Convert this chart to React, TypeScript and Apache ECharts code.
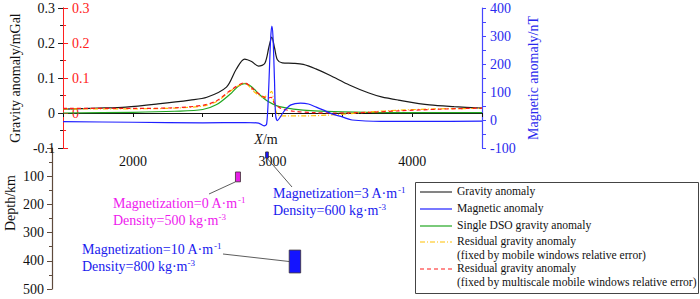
import React, { useEffect, useRef } from "react";
import * as echarts from "echarts";

const FONT = "Liberation Serif";

// ---------- data ----------
const gravX = [1500, 1750, 1950, 2180, 2410, 2530, 2670, 2740, 2800, 2850, 2900, 2945, 2975, 2995, 3015, 3035, 3070, 3150, 3220, 3310, 3410, 3550, 3690, 3780, 3900, 4125, 4300, 4500];
const gravY = [0.011, 0.014, 0.017, 0.026, 0.037, 0.045, 0.074, 0.125, 0.154, 0.147, 0.134, 0.142, 0.19, 0.217, 0.185, 0.152, 0.143, 0.142, 0.139, 0.126, 0.108, 0.08, 0.057, 0.046, 0.037, 0.023, 0.018, 0.014];

const magX = [1500, 2000, 2500, 2800, 2900, 2940, 2958, 2972, 2986, 2995, 3003, 3014, 3022, 3035, 3056, 3083, 3132, 3200, 3257, 3313, 3361, 3431, 3500, 3570, 3780, 4100, 4500];
const magY = [-6, -8, -10, -9, -11, -21, -14, 107, 286, 335, 300, 143, 18, -2, 11, 32, 54, 60, 57, 46, 36, 21, 11, 0, -5, -5, -4];

const singleX = [1500, 2000, 2300, 2500, 2600, 2700, 2750, 2800, 2850, 2900, 2950, 3000, 3050, 3150, 3300, 3500, 3800, 4500];
const singleY = [0, 0.002, 0.005, 0.01, 0.024, 0.055, 0.075, 0.084, 0.075, 0.055, 0.038, 0.026, 0.018, 0.011, 0.006, 0.003, 0.001, 0.001];

const resMobileX = [1500, 2000, 2300, 2500, 2600, 2700, 2800, 2870, 2930, 2970, 2993, 3010, 3030, 3060, 3100, 3250, 3400, 3550, 3700, 3900, 4200, 4500];
const resMobileY = [0.012, 0.012, 0.014, 0.02, 0.033, 0.063, 0.085, 0.06, 0.045, 0.052, 0.062, 0.03, 0.0, -0.008, -0.008, -0.008, -0.006, -0.002, 0.003, 0.008, 0.012, 0.013];

const resMultiX = [1500, 2000, 2300, 2500, 2600, 2700, 2800, 2870, 2920, 2960, 2990, 3010, 3040, 3070, 3150, 3300, 3450, 3700, 3900, 4200, 4500];
const resMultiY = [0.013, 0.013, 0.015, 0.022, 0.035, 0.065, 0.086, 0.065, 0.05, 0.042, 0.045, 0.03, 0.018, 0.012, 0.005, 0.001, 0.0, 0.002, 0.006, 0.011, 0.014];

// bodies: x range (m) and depth range (km)
const bodyX0 = [2780, 2990, 3155];
const bodyX1 = [2815, 3010, 3235];
const bodyTop = [85, 14, 362];
const bodyBottom = [120, 36, 443];
const bodyColors = ["#e61ee6", "#1414ff", "#1414ff"];

const xTicks = [2000, 3000, 4000];
const seriesNames = [
  "Gravity anomaly",
  "Magnetic anomaly",
  "Single DSO gravity anomaly",
  "Residual gravity anomaly\n(fixed by mobile windows relative error)",
  "Residual gravity anomaly\n(fixed by multiscale mobile windows relative error)",
];
const seriesColors = ["#1a1a1a", "#1f1fff", "#22a722", "#ffbf00", "#ff1a1a"];
const seriesDash: (number[] | null)[] = [null, null, null, [5, 2, 1, 2], [4, 3]];

const bodyLabels = [
  { l1: "Magnetization=0 A·m", s1: "-1", l2: "Density=500 kg·m", s2: "-3", color: "#ee1aee" },
  { l1: "Magnetization=3 A·m", s1: "-1", l2: "Density=600 kg·m", s2: "-3", color: "#1a1aee" },
  { l1: "Magnetization=10 A·m", s1: "-1", l2: "Density=800 kg·m", s2: "-3", color: "#1a1aee" },
];

const zip = (xs: number[], ys: number[]) => xs.map((x, i) => [x, ys[i]]);

export default function App() {
  const ref = useRef<HTMLDivElement>(null);
  useEffect(() => {
    const chart = echarts.init(ref.current!, null, { renderer: "svg" });
    const axisFont = { fontFamily: FONT, fontSize: 14 };
    const lineSeries = (i: number, xs: number[], ys: number[], yIdx: number) => ({
      type: "line",
      name: seriesNames[i],
      xAxisIndex: 0,
      yAxisIndex: yIdx,
      data: zip(xs, ys),
      showSymbol: false,
      symbol: "none",
      smooth: 0.3,
      lineStyle: { color: seriesColors[i], width: 1.2, type: seriesDash[i] || "solid" },
      z: i === 1 ? 3 : 2,
    });

    chart.setOption({
      animation: false,
      backgroundColor: "#fff",
      textStyle: { fontFamily: FONT },
      grid: [
        { left: 52, top: 8, width: 430, height: 140 },
        { left: 52, top: 148, width: 430, height: 141 },
      ],
      xAxis: [
        {
          gridIndex: 0,
          type: "value",
          min: 1500,
          max: 4500,
          interval: 500,
          splitLine: { show: false },
          axisLine: { lineStyle: { color: "#111", width: 1 } },
          axisTick: { show: true, length: 4, lineStyle: { color: "#111" } },
          axisLabel: {
            ...axisFont,
            color: "#111",
            margin: 6,
            formatter: (v: number) => (xTicks.includes(v) ? String(v) : ""),
          },
        },
        { gridIndex: 1, type: "value", min: 1500, max: 4500, show: false },
      ],
      yAxis: [
        {
          gridIndex: 0,
          type: "value",
          position: "left",
          min: -0.1,
          max: 0.3,
          interval: 0.1,
          splitLine: { show: false },
          axisLine: { show: true, lineStyle: { color: "#ff2020", width: 1 } },
          axisTick: { show: true, length: 5, lineStyle: { color: "#222" } },
          minorTick: { show: true, splitNumber: 2, length: 3, lineStyle: { color: "#222" } },
          axisLabel: { ...axisFont, color: "#111", margin: 8, formatter: (v: number) => String(Math.round(v * 10) / 10) },
          name: "Gravity anomaly/mGal",
          nameLocation: "middle",
          nameGap: 35,
          nameTextStyle: { ...axisFont, color: "#111" },
        },
        {
          gridIndex: 0,
          type: "value",
          position: "left",
          offset: 0,
          min: -0.1,
          max: 0.3,
          interval: 0.1,
          splitLine: { show: false },
          axisLine: { show: true, lineStyle: { color: "#ff2020", width: 1 } },
          axisTick: { show: true, inside: true, length: 5, lineStyle: { color: "#ff2020" } },
          minorTick: { show: true, splitNumber: 2, length: 3, lineStyle: { color: "#ff2020" } },
          axisLabel: {
            ...axisFont,
            color: "#ff2020",
            inside: true,
            margin: 9,
            formatter: (v: number) => (v < -0.05 ? "" : String(Math.round(v * 10) / 10)),
          },
        },
        {
          gridIndex: 0,
          type: "value",
          position: "right",
          min: -100,
          max: 400,
          interval: 100,
          splitLine: { show: false },
          axisLine: { show: true, lineStyle: { color: "#4646ff", width: 1.2 } },
          axisTick: { show: true, length: 4, lineStyle: { color: "#4646ff" } },
          minorTick: { show: true, splitNumber: 2, length: 4, lineStyle: { color: "#4646ff" } },
          axisLabel: { ...axisFont, color: "#2a2aee", margin: 8 },
          name: "Magnetic anomaly/nT",
          nameLocation: "middle",
          nameGap: 38,
          nameTextStyle: { ...axisFont, color: "#2a2aee" },
        },
        {
          gridIndex: 1,
          type: "value",
          position: "left",
          inverse: true,
          min: 0,
          max: 500,
          interval: 100,
          splitLine: { show: false },
          axisLine: { show: true, lineStyle: { color: "#5e4a3c", width: 1.2 } },
          axisTick: { show: true, length: 5, lineStyle: { color: "#5e4a3c" } },
          minorTick: { show: true, splitNumber: 2, length: 3, lineStyle: { color: "#5e4a3c" } },
          axisLabel: { ...axisFont, color: "#111", margin: 8, formatter: (v: number) => (v === 0 ? "" : String(v)) },
        },
      ],
      series: [
        lineSeries(0, gravX, gravY, 0),
        lineSeries(1, magX, magY, 2),
        lineSeries(2, singleX, singleY, 0),
        lineSeries(3, resMobileX, resMobileY, 0),
        lineSeries(4, resMultiX, resMultiY, 0),
        {
          type: "custom",
          name: "bodies",
          xAxisIndex: 1,
          yAxisIndex: 3,
          clip: false,
          data: bodyX0.map((x, i) => [x, bodyX1[i], bodyTop[i], bodyBottom[i]]),
          encode: { x: [0, 1], y: [2, 3] },
          renderItem: (params: any, api: any) => {
            const p0 = api.coord([api.value(0), api.value(2)]);
            const p1 = api.coord([api.value(1), api.value(3)]);
            return {
              type: "rect",
              shape: { x: p0[0], y: p0[1], width: p1[0] - p0[0], height: p1[1] - p0[1] },
              style: { fill: bodyColors[params.dataIndex], stroke: "#3a3030", lineWidth: 0.8 },
            };
          },
        },
      ],
    });

    const toPx = (x: number, d: number) =>
      chart.convertToPixel({ xAxisIndex: 1, yAxisIndex: 3 }, [x, d]) as number[];
    const textPos = [
      [113, 195],
      [273, 185],
      [82, 241],
    ];
    const leaderEnds = [
      [209, 194],
      [292, 187],
      [223, 254],
    ];
    const leaderStarts = [
      toPx(bodyX0[0], bodyBottom[0]),
      toPx((bodyX0[1] + bodyX1[1]) / 2, bodyBottom[1]),
      toPx(bodyX0[2], (bodyTop[2] + bodyBottom[2]) / 2),
    ];

    const graphics: any[] = [];
    bodyLabels.forEach((b, i) => {
      graphics.push({
        type: "line",
        shape: { x1: leaderStarts[i][0], y1: leaderStarts[i][1], x2: leaderEnds[i][0], y2: leaderEnds[i][1] },
        style: { stroke: "#333", lineWidth: 0.8 },
        z: 10,
      });
      graphics.push({
        type: "text",
        x: textPos[i][0],
        y: textPos[i][1],
        z: 11,
        style: {
          text: `{a|${b.l1}}{s|${b.s1}}\n{a|${b.l2}}{s|${b.s2}}`,
          fill: b.color,
          fontFamily: FONT,
          rich: {
            a: { fontFamily: FONT, fontSize: 14, fill: b.color, lineHeight: 17 },
            s: { fontFamily: FONT, fontSize: 9, fill: b.color, lineHeight: 10, verticalAlign: "top" },
          },
        },
      });
    });

    graphics.push({
      type: "text",
      x: 266,
      y: 139,
      z: 11,
      style: {
        text: "{i|X}{n|/m}",
        align: "center",
        verticalAlign: "middle",
        fontFamily: FONT,
        rich: {
          i: { fontFamily: FONT, fontSize: 14, fontStyle: "italic", fill: "#111" },
          n: { fontFamily: FONT, fontSize: 14, fill: "#111" },
        },
      },
    });

    graphics.push({
      type: "text",
      x: 10,
      y: 203,
      rotation: Math.PI / 2,
      style: { text: "Depth/km", fontFamily: FONT, fontSize: 14, fill: "#111", align: "center", verticalAlign: "middle" },
    });

    graphics.push({
      type: "rect",
      shape: { x: 415.5, y: 182.5, width: 283, height: 111 },
      style: { fill: "#fff", stroke: "#444", lineWidth: 1 },
      z: 20,
    });
    const rowY = [192, 209, 226, 242, 269];
    seriesNames.forEach((n, i) => {
      graphics.push({
        type: "line",
        shape: { x1: 420, y1: rowY[i], x2: 452, y2: rowY[i] },
        style: {
          stroke: i === 0 ? "#333" : seriesColors[i],
          lineWidth: 1.2,
          lineDash: seriesDash[i] || null,
        },
        z: 21,
      });
      graphics.push({
        type: "text",
        x: 457,
        y: rowY[i] - 7,
        z: 21,
        style: { text: n, fontFamily: FONT, fontSize: 11.6, fill: "#111", lineHeight: 13.5, verticalAlign: "top" },
      });
    });

    chart.setOption({ graphic: graphics });
    return () => chart.dispose();
  }, []);
  return (
    <div
      ref={ref}
      style={{ position: "absolute", left: 0, top: 0, width: 700, height: 299, background: "#fff" }}
    />
  );
}
